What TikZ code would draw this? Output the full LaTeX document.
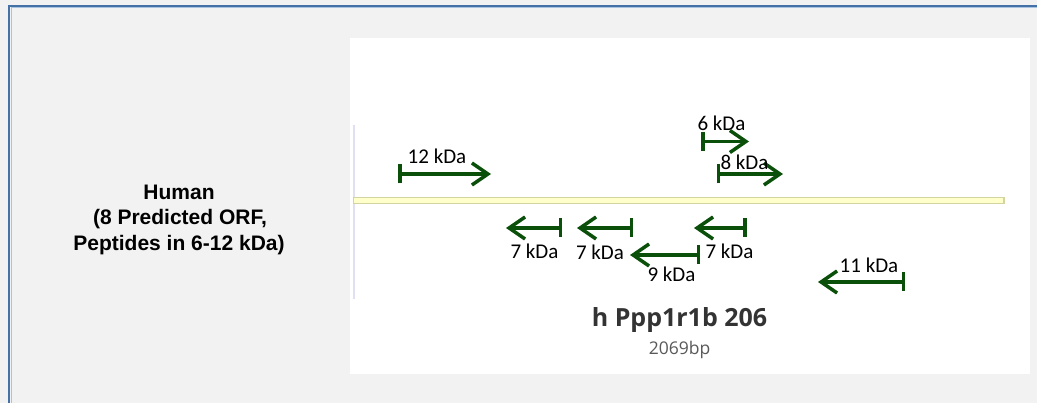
\documentclass[tikz,border=0pt]{standalone}
\usepackage{fontspec}
\setmainfont{Carlito}
\newfontfamily\arialf{Liberation Sans}
\newfontfamily\segf{Open Sans}
\usetikzlibrary{arrows.meta}
\definecolor{bgc}{HTML}{F2F2F2}
\definecolor{frameblue}{RGB}{68,114,166}
\definecolor{framelight}{RGB}{170,195,225}
\definecolor{grn}{RGB}{10,80,10}
\definecolor{barfill}{HTML}{FFFFCC}
\definecolor{barline}{HTML}{D4D4A0}
\definecolor{lav}{HTML}{E0E0F5}
\definecolor{ttl}{HTML}{333333}
\definecolor{bpc}{HTML}{595959}
\begin{document}
\begin{tikzpicture}[x=1pt,y=-1pt,
  orf/.style={draw=grn, line width=3.5pt, {Bar[width=19pt]}-{Straight Barb[length=16pt,width=22pt]}},
  kda/.style={font=\fontsize{21}{25}\selectfont, anchor=base, inner sep=0pt, text=black},
  lefttxt/.style={font=\arialf\bfseries\fontsize{21}{25}\selectfont, anchor=base, inner sep=0pt, text=black}]
\useasboundingbox (0,0) rectangle (1037,403);
\fill[bgc] (0,0) rectangle (1037,403);
% frame
\draw[framelight, line width=1pt] (10.5,8) -- (1037,8);
\draw[framelight, line width=1pt] (11,7) -- (11,403);
\draw[frameblue, line width=2.5pt] (8,6) -- (1037,6);
\draw[frameblue, line width=2.5pt] (9,5) -- (9,403);
% white panel
\fill[white] (350,38) rectangle (1030,374);
% left vertical line
\draw[lav, line width=2pt] (354,125) -- (354,299);
% sequence bar
\draw[barline, fill=barfill, line width=1.5pt] (353.5,197.5) rectangle (1004,203.5);
% left label
\node[lefttxt] (h1) at (179,199.5) {Human};
\node[lefttxt] (h2) at (180,225) {(8 Predicted ORF,};
\node[lefttxt] (h3) at (179,250.5) {Peptides in 6-12 kDa)};
% ORF arrow end points
\coordinate (a12s) at (398,174); \coordinate (a12e) at (491,174);
\coordinate (a6s) at (701,141.5); \coordinate (a6e) at (749,141.5);
\coordinate (a8s) at (716.5,174); \coordinate (a8e) at (783,174);
\coordinate (b1s) at (562,228); \coordinate (b1e) at (506,228);
\coordinate (b2s) at (633,228); \coordinate (b2e) at (577,228);
\coordinate (b3s) at (746.5,228); \coordinate (b3e) at (694,228);
\coordinate (b9s) at (700,255); \coordinate (b9e) at (630,255);
\coordinate (b11s) at (905,282); \coordinate (b11e) at (818,282);
\draw[orf] (a12s) -- (a12e);
\draw[orf] (a6s) -- (a6e);
\draw[orf] (a8s) -- (a8e);
\draw[orf] (b1s) -- (b1e);
\draw[orf] (b2s) -- (b2e);
\draw[orf] (b3s) -- (b3e);
\draw[orf] (b9s) -- (b9e);
\draw[orf] (b11s) -- (b11e);
% labels
\node[kda] (l12) at (437,164) {12 kDa};
\node[kda] (l6) at (721.5,131) {6 kDa};
\node[kda] (l8) at (744.5,170) {8 kDa};
\node[kda] (l7a) at (534.5,259) {7 kDa};
\node[kda] (l7b) at (600,260) {7 kDa};
\node[kda] (l7c) at (729.5,258.5) {7 kDa};
\node[kda] (l9) at (671.5,281.5) {9 kDa};
\node[kda] (l11) at (869,272.5) {11 kDa};
% title
\node[font=\segf\bfseries\fontsize{25}{30}\selectfont, text=ttl, anchor=base, inner sep=0pt] (title) at (679.5,327) {h Ppp1r1b 206};
\node[font=\segf\fontsize{17.5}{21}\selectfont, text=bpc, anchor=base, inner sep=0pt] (bp) at (679.5,355) {2069bp};
\end{tikzpicture}
\end{document}
